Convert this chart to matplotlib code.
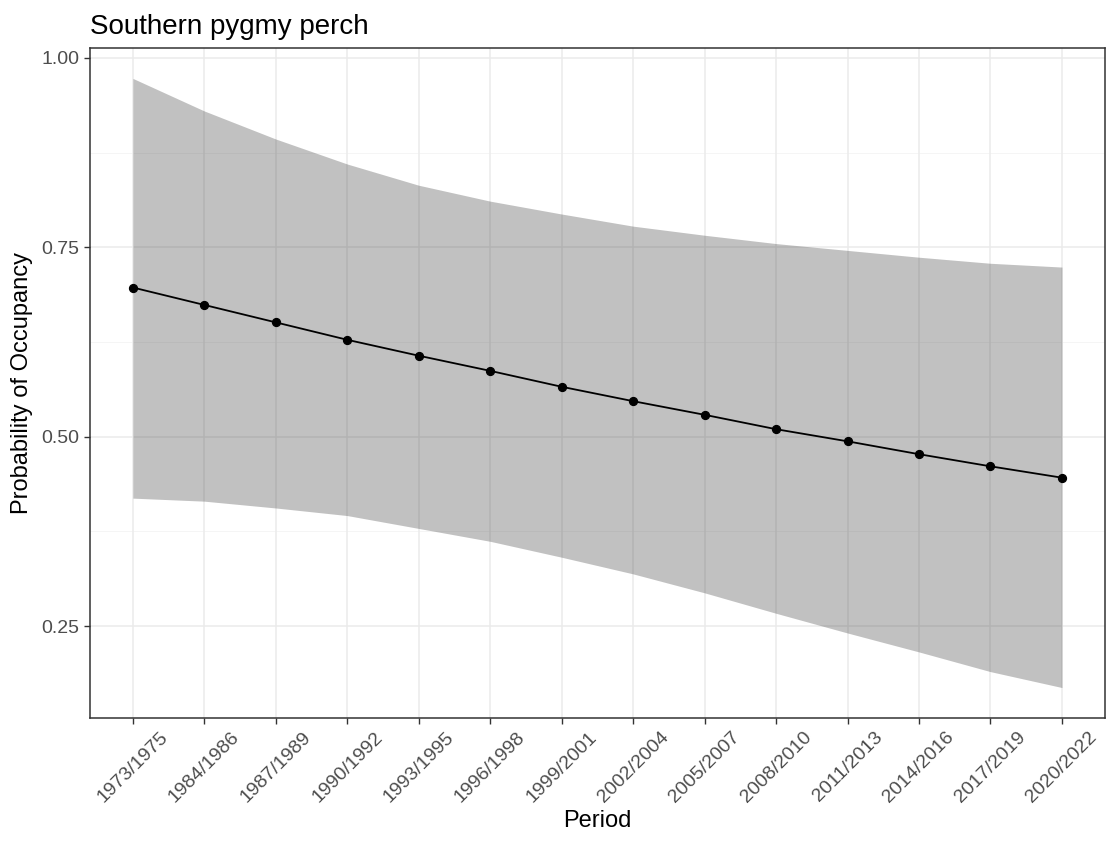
import matplotlib
matplotlib.use("Agg")
import matplotlib.pyplot as plt
import numpy as np

plt.rcParams["font.family"] = ["Liberation Sans", "DejaVu Sans"]

periods = ["1973/1975", "1984/1986", "1987/1989", "1990/1992", "1993/1995",
           "1996/1998", "1999/2001", "2002/2004", "2005/2007", "2008/2010",
           "2011/2013", "2014/2016", "2017/2019", "2020/2022"]
occupancy = [0.697, 0.674, 0.651, 0.628, 0.607, 0.587, 0.566,
             0.547, 0.529, 0.510, 0.494, 0.477, 0.461, 0.446]
upper = [0.973, 0.930, 0.893, 0.860, 0.832, 0.811, 0.794,
         0.778, 0.766, 0.755, 0.746, 0.737, 0.729, 0.724]
lower = [0.419, 0.415, 0.406, 0.396, 0.379, 0.362, 0.341,
         0.319, 0.294, 0.267, 0.241, 0.216, 0.190, 0.169]

fig = plt.figure(figsize=(11.17, 8.46), dpi=100)
ax = fig.add_axes([0.0806, 0.1513, 0.9085, 0.792])

x = np.arange(len(periods))

# grid first, ribbon drawn semi-transparent on top
for y in [0.25, 0.5, 0.75, 1.0]:
    ax.axhline(y, color="#EBEBEB", lw=1.1, zorder=0)
for y in [0.375, 0.625, 0.875]:
    ax.axhline(y, color="#F2F2F2", lw=0.55, zorder=0)
for xi in x:
    ax.axvline(xi, color="#EBEBEB", lw=1.1, zorder=0)

ax.fill_between(x, lower, upper, color="#333333", alpha=0.3, lw=0, zorder=1)
ax.plot(x, occupancy, color="black", lw=1.3, zorder=2)
ax.scatter(x, occupancy, s=32, color="black", zorder=3)

ymin = min(lower)
ymax = max(upper)
pad = (ymax - ymin) * 0.05
ax.set_ylim(ymin - pad, ymax + pad)
ax.set_xlim(-0.6, len(periods) - 1 + 0.6)

ax.set_yticks([0.25, 0.5, 0.75, 1.0])
ax.set_yticklabels(["0.25", "0.50", "0.75", "1.00"])
ax.set_xticks(x)
ax.set_xticklabels(periods, rotation=45, ha="center", va="top")

ax.tick_params(axis="both", colors="#333333", length=4.5, width=1.0,
               labelcolor="#4D4D4D", labelsize=14)
ax.tick_params(axis="x", pad=3)
ax.tick_params(axis="y", pad=3)
for s in ax.spines.values():
    s.set_color("#333333")
    s.set_linewidth(1.1)

ax.set_xlabel("Period", fontsize=17, color="black", labelpad=3)
ax.set_ylabel("Probability of Occupancy", fontsize=17, color="black", labelpad=6)
ax.set_title("Southern pygmy perch", fontsize=20, loc="left", pad=10)

fig.savefig("out.png", dpi=100)
